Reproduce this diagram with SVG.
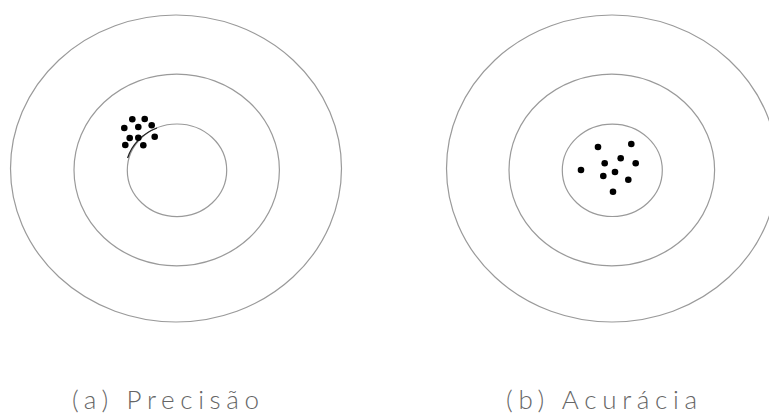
<svg xmlns="http://www.w3.org/2000/svg" width="769" height="416" viewBox="0 0 769 416">
<style>
.ring{fill:none;stroke:#9a9a9a;stroke-width:1.2}
.dot{fill:#000}
.lbl{font-family:Lato,"Liberation Sans",sans-serif;font-weight:300;font-size:26px;fill:#666}
</style>
<rect width="769" height="416" fill="#fff"/>
<g id="target-a">
<ellipse class="ring" cx="176" cy="168.5" rx="165.5" ry="153.5"/>
<ellipse class="ring" cx="176.7" cy="170" rx="102.7" ry="95.8"/>
<ellipse class="ring" cx="177" cy="170.3" rx="49.7" ry="46.3"/>
<path d="M127.6 158 A49.7 46.3 0 0 1 157 128" fill="none" stroke="#222" stroke-width="1.3"/>
<g id="dots-a">
<circle class="dot" cx="132.3" cy="119.3" r="3.3"/>
<circle class="dot" cx="144.7" cy="119" r="3.3"/>
<circle class="dot" cx="124.3" cy="128" r="3.3"/>
<circle class="dot" cx="138.3" cy="127" r="3.3"/>
<circle class="dot" cx="151.7" cy="125.3" r="3.3"/>
<circle class="dot" cx="129.7" cy="138" r="3.3"/>
<circle class="dot" cx="138.3" cy="137.7" r="3.3"/>
<circle class="dot" cx="154.7" cy="136.7" r="3.3"/>
<circle class="dot" cx="125.3" cy="145" r="3.3"/>
<circle class="dot" cx="143.3" cy="145.3" r="3.3"/>
</g>
<text class="lbl" x="72" y="409" textLength="187" lengthAdjust="spacing">(a) Precisão</text>
</g>
<g id="target-b">
<ellipse class="ring" cx="612" cy="168.5" rx="165.5" ry="153.5"/>
<ellipse class="ring" cx="611.8" cy="170" rx="102.8" ry="95.8"/>
<ellipse class="ring" cx="612.3" cy="170.3" rx="50" ry="46.2"/>
<g id="dots-b">
<circle class="dot" cx="598" cy="147" r="3.3"/>
<circle class="dot" cx="631.3" cy="144" r="3.3"/>
<circle class="dot" cx="620.7" cy="158.3" r="3.3"/>
<circle class="dot" cx="604.7" cy="163.3" r="3.3"/>
<circle class="dot" cx="635.7" cy="163.3" r="3.3"/>
<circle class="dot" cx="581" cy="170" r="3.3"/>
<circle class="dot" cx="615" cy="172" r="3.3"/>
<circle class="dot" cx="603.3" cy="176" r="3.3"/>
<circle class="dot" cx="628.3" cy="179.7" r="3.3"/>
<circle class="dot" cx="613" cy="191.7" r="3.3"/>
</g>
<text class="lbl" x="506" y="409" textLength="191" lengthAdjust="spacing">(b) Acurácia</text>
</g>
</svg>
